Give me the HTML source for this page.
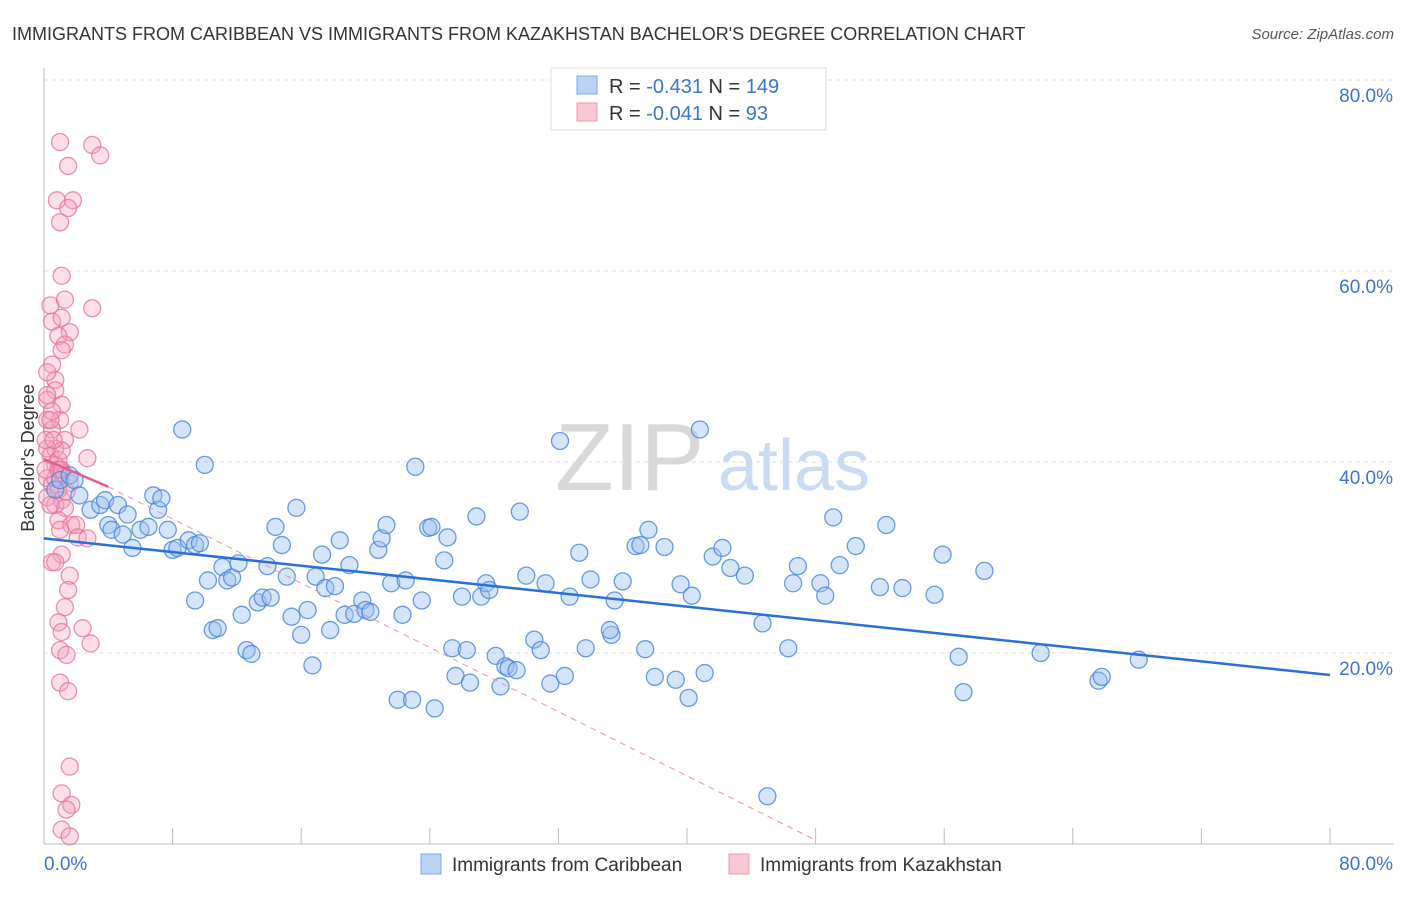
<!DOCTYPE html>
<html><head><meta charset="utf-8"><style>
body{margin:0;background:#fff;font-family:"Liberation Sans",sans-serif;}
svg text{font-family:"Liberation Sans",sans-serif;}
</style></head><body>
<svg id="chart" width="1406" height="892" xmlns="http://www.w3.org/2000/svg">
<text x="12" y="40" font-size="18" fill="#333">IMMIGRANTS FROM CARIBBEAN VS IMMIGRANTS FROM KAZAKHSTAN BACHELOR'S DEGREE CORRELATION CHART</text>
<text x="1394" y="39" font-size="15" fill="#555" text-anchor="end" font-style="italic">Source: ZipAtlas.com</text>
<g id="grid"></g>
<text x="555" y="490" font-size="96" fill="#d8d8d8" font-family="Liberation Serif">ZIP</text>
<text x="718" y="490" font-size="72" fill="#c9dbf2">atlas</text>
<g id="pts"></g>
<g id="trend"></g>
<text transform="translate(34,458) rotate(-90)" font-size="18" fill="#333" text-anchor="middle">Bachelor's Degree</text>
<g>
<rect x="551" y="68" width="275" height="62" fill="#fff" stroke="#ddd"/>
<rect x="577" y="76" width="20" height="18" fill="#b9d3f5" stroke="#7ba7e3"/>
<rect x="577" y="103" width="20" height="18" fill="#f9c6d4" stroke="#ec9ab3"/>
<text x="609" y="93" font-size="20" fill="#333">R = <tspan fill="#3b73d1">-0.431</tspan>   N = <tspan fill="#3b73d1">149</tspan></text>
<text x="609" y="120" font-size="20" fill="#333">R = <tspan fill="#3b73d1">-0.041</tspan>   N = <tspan fill="#3b73d1">  93</tspan></text>
</g>
<g>
<rect x="421" y="854" width="20" height="20" fill="#b9d3f5" stroke="#7ba7e3"/>
<text x="452" y="871" font-size="19" fill="#333">Immigrants from Caribbean</text>
<rect x="729" y="854" width="20" height="20" fill="#f9c6d4" stroke="#ec9ab3"/>
<text x="760" y="871" font-size="19" fill="#333">Immigrants from Kazakhstan</text>
</g>
</svg>
<script>
const xTicks=[0,8,16,24,32,40,48,56,64,72,80];
const yTicks=[20,40,60,80];
const blueX=[0.7,1.0,1.6,1.9,2.2,2.9,3.5,3.8,4.0,4.2,4.6,4.9,5.2,5.5,6.0,6.5,6.8,7.1,7.3,7.7,8.0,8.3,8.6,9.0,9.4,9.7,10.0,10.2,10.5,10.8,9.4,11.1,11.4,11.7,12.1,12.3,12.6,12.9,13.3,13.6,13.9,14.1,14.4,14.8,15.1,15.4,15.7,16.0,16.4,16.7,16.9,17.3,17.5,17.8,18.1,18.4,18.7,19.0,19.3,19.8,20.0,20.3,20.8,21.0,21.3,21.6,22.0,22.3,22.5,22.9,23.1,23.5,23.9,24.1,24.3,24.9,25.1,25.4,25.6,26.0,26.3,26.5,26.9,27.2,27.5,27.7,28.1,28.4,28.7,28.9,29.4,29.6,30.0,30.5,30.9,31.2,31.5,32.1,32.4,32.7,33.3,33.7,34.0,35.3,35.5,35.2,36.0,36.8,37.1,37.4,37.6,38.0,38.6,39.3,39.6,40.1,40.3,40.8,41.1,41.6,42.2,42.7,43.6,44.7,46.3,46.6,46.9,48.3,48.6,49.1,49.5,50.5,52.0,52.4,53.4,55.4,55.9,56.9,57.2,58.5,62.0,65.6,65.8,68.1,45.0];
const blueY=[37.1,38.1,38.6,38.1,36.5,35.0,35.5,36.0,33.4,32.9,35.5,32.4,34.5,31.0,32.9,33.2,36.5,35.0,36.2,32.9,30.8,31.0,43.4,31.8,31.3,31.5,39.7,27.6,22.4,22.6,25.5,29.0,27.6,27.9,29.4,24.0,20.3,19.9,25.3,25.8,29.1,25.8,33.2,31.3,28.0,23.8,35.2,21.9,24.5,18.7,28.0,30.3,26.8,22.4,27.0,31.8,24.0,29.2,24.1,25.5,24.5,24.3,30.8,32.0,33.4,27.3,15.1,24.0,27.6,15.1,39.5,25.5,33.1,33.2,14.2,29.7,32.1,20.5,17.6,25.9,20.3,16.9,34.3,25.9,27.3,26.6,19.7,16.5,18.6,18.4,18.2,34.8,28.1,21.4,20.3,27.3,16.8,42.2,17.6,25.9,30.5,20.5,27.7,21.9,25.5,22.4,27.5,31.2,31.3,20.4,32.9,17.5,31.1,17.2,27.2,15.3,26.0,43.4,17.9,30.1,31.0,28.9,28.1,23.1,20.5,27.3,29.1,27.3,26.0,34.2,29.2,31.2,26.9,33.4,26.8,26.1,30.3,19.6,15.9,28.6,20.0,17.1,17.5,19.3,5.0];
const pinkX=[1.0,3.0,3.5,1.5,0.8,1.8,1.5,1.0,1.1,0.4,1.3,3.0,0.5,1.1,1.6,0.9,1.3,1.1,0.5,0.7,0.2,0.7,0.2,1.1,0.2,1.0,2.2,0.5,1.3,2.7,0.4,0.7,1.0,0.2,0.5,0.9,1.1,0.2,0.7,1.3,0.9,1.7,2.0,1.0,2.1,2.7,1.1,0.5,0.7,1.6,1.5,1.3,2.4,0.9,1.1,2.9,1.0,1.4,1.0,1.5,1.6,1.1,1.7,1.4,1.1,1.6,0.2,0.5,0.7,0.2,1.1,0.7,1.6,0.1,0.1,0.4,0.9,1.1,1.4,0.6,0.4,0.9,1.1];
const pinkY=[73.5,73.2,72.1,71.0,67.4,67.4,66.6,65.1,59.5,56.4,57.0,56.1,54.7,55.1,53.6,53.2,52.3,51.7,50.2,48.6,49.4,47.5,46.5,46.0,44.4,44.4,43.4,43.4,42.3,40.4,40.7,39.7,39.2,38.3,37.6,37.1,36.0,36.3,35.5,35.2,33.9,33.4,33.4,32.9,32.1,32.0,30.3,29.5,29.5,28.1,26.6,24.8,22.6,23.2,22.2,21.0,20.3,19.8,16.9,16.0,8.1,5.3,4.1,3.6,1.5,0.8,47.0,45.3,41.4,41.4,38.9,38.3,37.8,42.3,39.2,44.4,40.2,41.2,36.9,42.3,35.5,39.2,39.2];
const blueTrend=[32.0,17.7];
const pinkTrend=[40.3,37.4,5.3];
const pinkDashEnd=[48,0.4];
const NS='http://www.w3.org/2000/svg';
const X=v=>44+v*(1330-44)/80;
const Y=v=>844-v*9.55;
function mk(tag,attrs,parent){const e=document.createElementNS(NS,tag);for(const k in attrs)e.setAttribute(k,attrs[k]);parent.appendChild(e);return e;}
const grid=document.getElementById('grid');
yTicks.forEach(t=>{
 const l=mk('line',{x1:44,x2:1394,y1:Y(t),y2:Y(t),stroke:'#ddd','stroke-dasharray':'4,4'},grid);
 
 
 const tx=mk('text',{x:1393,y:Y(t)+22,'font-size':19,fill:'#3b73d1','text-anchor':'end'},grid);
 tx.textContent=t.toFixed(1)+'%';
 
 
});
const ax=mk('line',{x1:44,x2:1394,y1:844,y2:844,stroke:'#bbb'},grid);


const ay=mk('line',{x1:44,x2:44,y1:68,y2:844,stroke:'#bbb'},grid);


xTicks.forEach(t=>{
 const l=mk('line',{x1:X(t),x2:X(t),y1:828,y2:844,stroke:'#bbb'},grid);
 
 
});
[[0,'start'],[80,'end']].forEach(([t,a])=>{
 const tx=mk('text',{x:t===0?44:1393,y:870,'font-size':19,fill:'#3b73d1','text-anchor':a},grid);
 tx.textContent=t.toFixed(1)+'%';
 
 
});
const pts=document.getElementById('pts');
pinkX.forEach((x,i)=>{
 const c=mk('circle',{cx:X(x),cy:Y(pinkY[i]),r:8.5,fill:'rgba(244,160,186,0.35)',stroke:'rgba(230,110,150,0.75)','stroke-width':1.3},pts);
 
 
});
blueX.forEach((x,i)=>{
 const c=mk('circle',{cx:X(x),cy:Y(blueY[i]),r:8.5,fill:'rgba(150,190,240,0.4)',stroke:'rgba(70,130,215,0.8)','stroke-width':1.3},pts);
 
 
});
const tr=document.getElementById('trend');
const pd=mk('line',{x1:X(4),y1:Y(pinkTrend[1]),x2:X(pinkDashEnd[0]),y2:Y(pinkDashEnd[1]),stroke:'#e992ae','stroke-width':1,'stroke-dasharray':'6,5'},tr);


const ps=mk('line',{x1:X(0),y1:Y(pinkTrend[0]),x2:X(4),y2:Y(pinkTrend[1]),stroke:'#e0608a','stroke-width':2.5},tr);


const bl=mk('line',{x1:X(0),y1:Y(blueTrend[0]),x2:X(80),y2:Y(blueTrend[1]),stroke:'#2a6fd6','stroke-width':2.5},tr);


</script>
</body></html>
